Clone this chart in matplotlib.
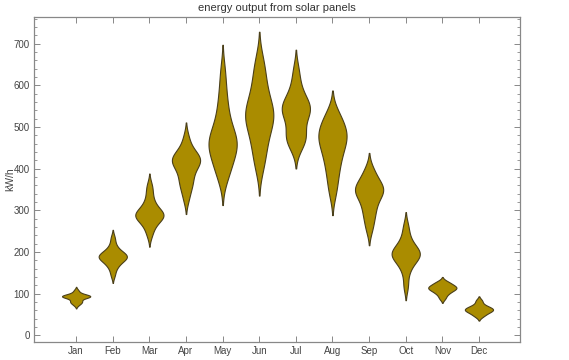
import numpy as np
import matplotlib
matplotlib.use("Agg")
import matplotlib.pyplot as plt
from matplotlib.ticker import MultipleLocator

plt.rcParams['font.family'] = ['Liberation Sans', 'DejaVu Sans']

months = ["Jan", "Feb", "Mar", "Apr", "May", "Jun",
          "Jul", "Aug", "Sep", "Oct", "Nov", "Dec"]

# daily output samples per month (kW/h)
jan = [73, 78, 80, 82, 86, 90, 92, 93, 93, 94, 94, 95, 96, 98, 102, 108]
feb = [145, 160, 168, 174, 178, 182, 185, 187, 189, 190, 192, 195, 198, 202, 208, 218, 234]
mar = [240, 255, 265, 272, 278, 282, 285, 287, 289, 291, 294, 298, 303, 310, 318, 330, 346, 361]
apr = [327, 350, 362, 372, 384, 395, 405, 412, 417, 420, 423, 427, 432, 440, 452, 475]
may = [374, 392, 405, 418, 430, 440, 449, 456, 461, 466, 473, 481, 492, 506, 522, 542, 565, 595, 636]
jun = [400, 425, 447, 465, 482, 496, 508, 518, 526, 532, 540, 550, 562, 577, 595, 615, 638, 664]
jul = [448, 465, 472, 478, 486, 505, 520, 530, 537, 542, 547, 553, 560, 570, 585, 607, 638]
aug = [340, 368, 390, 408, 424, 437, 449, 460, 469, 476, 482, 490, 499, 510, 522, 536]
sep = [254, 276, 292, 305, 318, 330, 338, 344, 348, 352, 357, 364, 372, 385, 400]
oct_ = [118, 150, 168, 178, 185, 190, 194, 197, 200, 205, 212, 222, 238, 262]
nov = [89, 98, 103, 107, 110, 112, 114, 116, 118, 121, 125, 129]
dec = [46, 52, 56, 59, 61, 63, 65, 68, 73, 83]

samples = [jan, feb, mar, apr, may, jun, jul, aug, sep, oct_, nov, dec]


def kde_stats(data, bw_factor=0.8, cut=2.0):
    d = np.asarray(data, float)
    bw = d.std(ddof=1) * len(d) ** (-1 / 5) * bw_factor
    coords = np.linspace(d.min() - cut * bw, d.max() + cut * bw, 400)
    vals = np.exp(-0.5 * ((coords[:, None] - d[None, :]) / bw) ** 2).sum(axis=1)
    return dict(coords=coords, vals=vals, mean=d.mean(), median=np.median(d),
                min=coords[0], max=coords[-1])


fig = plt.figure(figsize=(5.69, 3.6), dpi=100)
ax = fig.add_axes([0.0598, 0.05, 0.854, 0.9028])

stats = [kde_stats(s) for s in samples]
parts = ax.violin(stats, positions=np.arange(1, 13), widths=0.77,
                  showmeans=False, showextrema=False, showmedians=False)
for body in parts['bodies']:
    body.set_facecolor('#aa8c00')
    body.set_edgecolor('#4a3f1a')
    body.set_linewidth(0.8)
    body.set_alpha(1)

ax.set_xlim(-0.15, 13.12)
ax.set_ylim(-16, 764)
ax.set_xticks(np.arange(1, 13))
ax.set_xticklabels(months)
ax.yaxis.set_major_locator(MultipleLocator(100))
ax.yaxis.set_minor_locator(MultipleLocator(20))

gray = '#888888'
for sp in ax.spines.values():
    sp.set_color(gray)
    sp.set_linewidth(0.9)
ax.tick_params(which='both', direction='in', top=True, right=True,
               color=gray, labelsize=7, labelcolor='#444444', pad=3)
ax.tick_params(which='major', length=4, width=0.7)
ax.tick_params(which='minor', length=2.2, width=0.6)

ax.set_title("energy output from solar panels", fontsize=8, color='#333333', pad=4)
ax.set_ylabel("kW/h", fontsize=7.5, color='#444444')
ax.yaxis.set_label_coords(-0.038, 0.5)

fig.savefig("out.png", dpi=100)
